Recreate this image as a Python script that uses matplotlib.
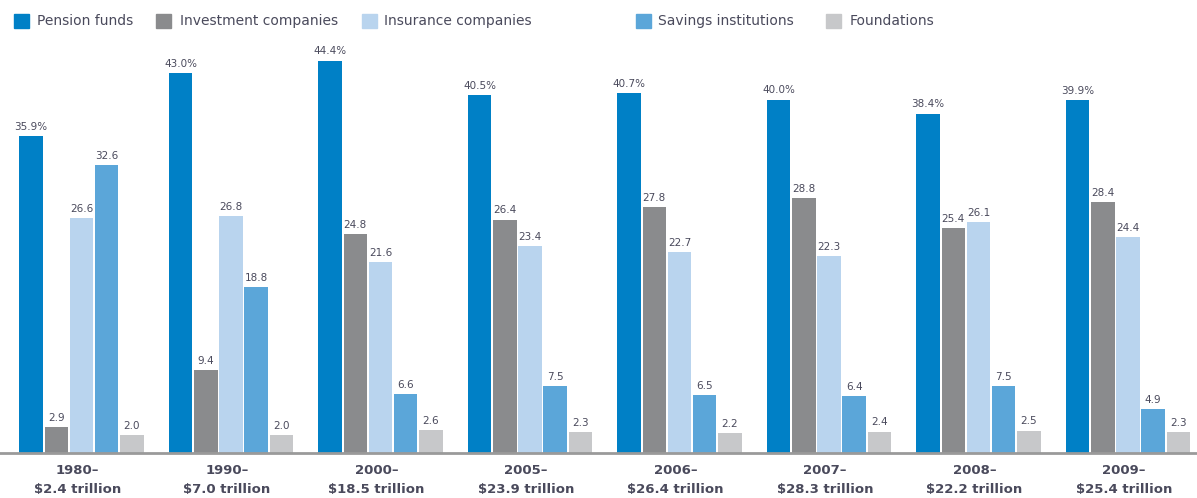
import numpy as np
import matplotlib
matplotlib.use("Agg")
import matplotlib.pyplot as plt
from matplotlib.patches import Rectangle

years = ["1980", "1990", "2000", "2005", "2006", "2007", "2008", "2009"]
totals = ["2.4", "7.0", "18.5", "23.9", "26.4", "28.3", "22.2", "25.4"]

series = ["Pension funds", "Investment companies", "Insurance companies",
          "Savings institutions", "Foundations"]
pension = [35.9, 43.0, 44.4, 40.5, 40.7, 40.0, 38.4, 39.9]
investment = [2.9, 9.4, 24.8, 26.4, 27.8, 28.8, 25.4, 28.4]
insurance = [26.6, 26.8, 21.6, 23.4, 22.7, 22.3, 26.1, 24.4]
savings = [32.6, 18.8, 6.6, 7.5, 6.5, 6.4, 7.5, 4.9]
foundations = [2.0, 2.0, 2.6, 2.3, 2.2, 2.4, 2.5, 2.3]

colors = ["#0080c6", "#8a8b8d", "#b9d4ee", "#5ba6d9", "#c7c8ca"]
txt_col = "#4a4a5c"

W, H = 1197, 498
fig = plt.figure(figsize=(W / 100, H / 100), dpi=100)

base_px = 452.7          # baseline, pixels from top
top_px = 30
px_per_unit = 8.83
pitch = 149.5            # px between groups
c0 = 81.5                # px of first group centre

ax = fig.add_axes([0, (H - base_px) / H, 1, (base_px - top_px) / H])
ax.set_ylim(0, (base_px - top_px) / px_per_unit)
ax.set_xlim(-c0 / pitch, (W - c0) / pitch)

x = np.arange(len(years))
step = 25.2 / pitch
bw = 23.5 / pitch
data = [pension, investment, insurance, savings, foundations]
for i, (vals, col) in enumerate(zip(data, colors)):
    bars = ax.bar(x + (i - 2) * step, vals, bw, color=col, linewidth=0)
    if i == 0:
        labs = ["%.1f%%" % v for v in vals]
    else:
        labs = ["%.1f" % v for v in vals]
    ax.bar_label(bars, labels=labs, padding=3, fontsize=7.5, color=txt_col)

for s in ["top", "right", "left"]:
    ax.spines[s].set_visible(False)
ax.spines["bottom"].set_color("#9a9a9a")
ax.spines["bottom"].set_linewidth(2)
ax.set_yticks([])
ax.set_xticks(x - 4 / pitch)
ax.set_xticklabels([y + "–\n\\$" + t + " trillion" for y, t in zip(years, totals)],
                   fontsize=9.5, fontweight="bold", color=txt_col, linespacing=1.6)
ax.tick_params(axis="x", length=0, pad=8)

# legend row along the top
sq_x = [14, 156, 362, 636, 826]
tx_x = [37, 180, 384, 658, 850]
for sx, tx, name, col in zip(sq_x, tx_x, series, colors):
    fig.patches.append(Rectangle((sx / W, 1 - 28 / H), 15 / W, 14 / H,
                                 transform=fig.transFigure, color=col))
    fig.text(tx / W, 1 - 21 / H, name, fontsize=10, color=txt_col,
             va="center", ha="left")

fig.savefig("out.png", dpi=100)
